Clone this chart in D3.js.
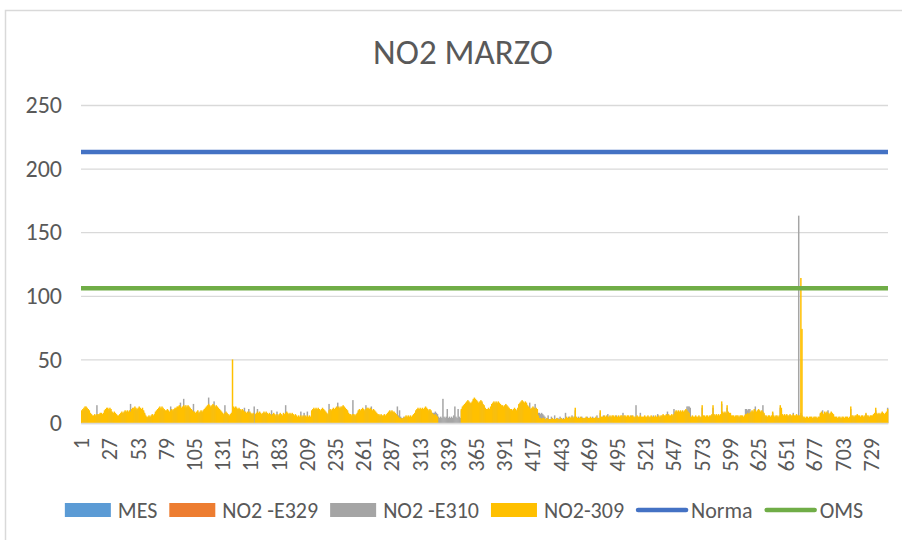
<!DOCTYPE html>
<html>
<head>
<meta charset="utf-8">
<script src="https://cdn.jsdelivr.net/npm/d3@7"></script>
<style>
  html, body { margin: 0; padding: 0; background: #fff; }
  svg text { font-family: Carlito, Lato, "Liberation Sans", sans-serif; fill: #595959; }
</style>
</head>
<body>
<svg id="chart" width="902" height="540"></svg>
<script>
// hourly NO2 values for March (744 hours)
const title = "NO2 MARZO";
const yTicks = [0, 50, 100, 150, 200, 250];
const xTickLabels = [1, 27, 53, 79, 105, 131, 157, 183, 209, 235, 261, 287, 313, 339, 365,
  391, 417, 443, 469, 495, 521, 547, 573, 599, 625, 651, 677, 703, 729];

// MES and NO2 -E329 have no visible marks in the source
const mes = [];
const no2E329 = [];

const no2E310 = [
  8,9,10,11,12,10,9,8,7,6,5,5,6,5,14,6,6,7,7,6,7,8,9,10,
  10,9,10,9,8,7,7,7,6,5,5,6,7,8,7,8,9,8,9,8,9,15,10,10,
  10,11,10,10,11,11,10,10,10,9,7,5,4,4,5,4,5,6,5,6,8,9,10,10,
  11,10,11,10,10,9,9,10,9,8,13,10,9,10,11,11,12,12,13,16,11,12,19,12,
  12,12,13,12,11,10,9,15,8,7,8,9,7,8,9,8,9,10,11,12,13,20,13,12,
  13,14,17,12,13,12,11,10,9,8,7,6,14,8,7,6,5,6,7,9,12,11,12,11,
  10,11,10,9,10,9,12,8,7,8,11,8,7,6,7,13,6,7,11,7,8,7,6,7,
  8,7,8,7,6,7,6,10,6,7,6,5,9,5,6,7,6,5,7,6,14,8,7,6,
  7,6,7,6,5,6,5,4,5,4,9,4,5,8,5,4,9,4,5,4,9,10,11,10,
  11,10,11,10,9,10,11,10,9,8,7,6,15,10,9,10,11,10,11,12,16,12,11,12,
  12,13,12,11,10,9,7,6,6,5,18,6,5,6,7,9,10,9,10,11,10,9,14,11,
  11,10,11,13,9,10,9,8,7,6,6,5,6,5,5,6,5,6,7,8,9,8,9,8,
  8,7,6,13,6,10,5,4,3,5,4,5,4,5,4,5,4,5,6,7,9,10,11,10,
  11,10,11,10,11,12,11,10,9,10,9,8,8,8,9,8,7,5,4,5,4,19,5,4,
  5,11,4,5,4,5,4,6,13,5,4,11,5,4,10,12,13,14,15,16,17,16,15,15,
  16,18,19,18,17,16,15,16,17,16,14,13,11,10,10,11,10,12,14,15,16,15,16,15,
  16,15,14,13,13,12,13,14,13,12,11,10,10,9,10,11,10,9,11,14,15,16,17,16,
  15,16,15,13,12,16,10,11,12,12,15,11,10,8,8,7,8,7,6,5,3,4,6,3,
  3,5,3,3,6,3,3,4,3,5,3,3,4,3,8,4,4,5,4,4,6,4,5,10,
  4,4,5,4,4,5,4,3,4,4,5,4,3,4,4,5,4,4,4,6,4,4,8,4,
  4,6,5,4,5,7,4,5,4,5,5,4,5,6,4,5,4,5,5,8,5,5,4,5,
  5,4,5,6,5,4,4,14,5,4,4,8,4,4,4,5,4,4,5,4,4,5,4,6,
  4,5,4,7,5,4,5,5,6,5,5,6,9,6,5,5,6,5,11,8,9,8,9,8,
  9,8,9,8,9,10,13,13,13,12,4,5,4,4,5,4,4,5,4,4,12,5,5,4,
  5,5,4,5,5,6,12,6,5,6,5,6,5,6,15,8,7,8,7,12,8,7,7,5,
  5,5,4,5,5,5,4,5,5,5,4,5,11,11,10,11,11,8,9,8,10,13,8,9,
  10,9,8,9,14,7,5,5,4,5,5,4,5,8,5,4,5,5,4,5,12,10,6,5,
  6,5,6,5,5,6,5,5,8,5,5,6,5,163,5,8,6,4,4,3,4,4,3,4,
  4,4,3,4,4,4,3,4,4,7,8,10,6,8,7,8,10,6,7,8,7,6,4,4,
  4,3,4,4,3,4,4,3,4,4,4,3,4,11,5,5,4,5,5,6,5,5,4,5,
  5,4,5,7,5,5,4,5,5,5,6,7,10,7,6,7,6,7,8,7,6,7,8,12
];

const no2309 = [
  10,11,12,13,13,12,11,10,8,7,6,6,7,6,7,7,7,8,8,7,8,10,11,12,
  12,11,12,11,9,8,9,8,7,6,6,7,8,9,8,9,10,9,10,9,10,9,11,12,
  12,13,12,11,12,13,12,11,12,10,8,6,5,5,6,5,6,7,6,7,9,10,11,12,
  13,12,13,12,11,10,10,11,10,9,10,11,10,11,12,12,13,13,14,13,12,13,14,13,
  14,13,14,13,12,11,10,9,9,8,9,10,8,9,10,9,10,11,12,13,14,15,14,13,
  14,15,14,13,14,13,12,11,10,9,8,7,8,9,8,7,6,7,8,50,13,12,13,12,
  11,12,11,10,11,10,9,9,8,9,8,9,8,7,8,null,7,8,9,8,9,8,7,8,
  9,8,9,8,7,8,7,6,7,8,7,6,7,6,7,8,7,6,8,7,8,9,8,7,
  8,7,8,7,6,7,6,5,6,5,6,5,6,5,6,5,6,5,6,5,10,11,12,11,
  12,11,12,11,10,11,12,11,10,9,8,7,10,11,10,11,12,11,12,13,12,13,12,13,
  13,14,13,12,11,10,8,7,7,6,7,7,6,7,8,10,11,10,11,12,11,10,11,12,
  12,11,12,11,10,11,10,9,8,7,7,6,7,6,6,7,6,7,8,9,10,9,10,9,
  9,8,7,6,5,4,4,3,4,4,5,6,5,6,5,6,5,6,7,8,10,11,12,11,
  12,11,12,11,12,13,12,11,10,11,10,8,7,6,7,6,5,null,null,null,null,null,null,null,
  null,null,null,null,null,null,null,null,null,null,null,null,null,null,11,13,14,15,16,17,18,17,16,16,
  17,19,20,19,18,17,16,17,18,17,15,14,12,11,11,12,11,13,15,16,17,16,17,16,
  17,16,15,14,14,13,14,15,14,13,12,11,11,10,11,12,11,10,12,15,16,17,18,17,
  16,17,16,14,13,12,11,12,13,12,11,12,11,6,4,4,3,4,4,3,3,4,3,3,
  3,3,4,3,3,3,4,3,3,3,4,3,3,3,4,5,4,4,5,4,5,4,5,12,
  5,4,4,4,5,4,4,4,4,5,4,4,4,5,4,4,4,4,5,4,4,4,10,5,
  5,5,6,5,6,5,5,6,5,6,6,5,6,5,5,6,5,6,6,5,6,6,5,6,
  6,5,6,5,6,5,5,5,6,5,5,6,5,5,5,6,5,5,6,5,5,6,5,5,
  5,6,5,5,6,5,6,6,7,6,6,7,6,7,6,6,7,6,7,9,10,9,10,9,
  10,9,10,9,10,11,10,9,8,5,5,6,5,5,6,5,5,6,5,5,14,6,6,5,
  6,6,5,6,6,7,14,7,6,7,6,7,6,7,17,9,8,9,8,14,9,8,8,6,
  6,6,5,6,6,6,5,6,6,6,5,6,7,7,8,7,8,9,10,9,11,10,9,10,
  11,10,9,10,9,8,6,6,5,6,6,5,6,9,6,5,6,6,5,6,14,12,7,6,
  7,6,7,6,6,7,6,6,7,6,6,7,6,6,6,114,74,5,5,4,5,5,4,5,
  5,5,4,5,5,5,4,5,5,8,9,8,7,9,8,9,8,7,8,9,8,7,5,5,
  5,4,5,5,4,5,5,4,5,5,5,4,5,13,6,6,5,6,6,7,6,6,5,6,
  6,5,6,8,6,6,5,6,6,6,7,8,12,8,7,8,7,8,9,8,7,8,9,11
];

// reference lines
const normaValue = 213;
const omsValue = 106;

const hours = d3.range(1, no2309.length + 1);

const colors = {
  mes: "#5B9BD5",
  e329: "#ED7D31",
  e310: "#A5A5A5",
  s309: "#FFC000",
  norma: "#4472C4",
  oms: "#70AD47"
};

const svg = d3.select("#chart");
const margin = { left: 81, right: 14, top: 105, bottom: 117 };
const width = 902, height = 540;

// chart frame
svg.append("rect")
  .attr("x", 5.5).attr("y", 10.5)
  .attr("width", 1000).attr("height", 1000)
  .attr("fill", "none")
  .attr("stroke", "#d9d9d9")
  .attr("stroke-width", 1.5);

svg.append("text")
  .attr("x", 463).attr("y", 64)
  .attr("text-anchor", "middle")
  .style("font-size", "35px")
  .style("font-weight", 300)
  .text(title);

const x = d3.scaleBand()
  .domain(hours)
  .range([margin.left, width - margin.right])
  .padding(0);

const y = d3.scaleLinear()
  .domain([0, 250])
  .range([height - margin.bottom, margin.top]);

// gridlines + y labels
const yAxis = svg.append("g")
  .attr("transform", `translate(${margin.left},0)`)
  .call(d3.axisLeft(y).tickValues(yTicks).tickSize(-(width - margin.left - margin.right)).tickPadding(19));
yAxis.select(".domain").remove();
yAxis.selectAll(".tick line").attr("stroke", "#d9d9d9").attr("stroke-width", 1.3);
yAxis.selectAll(".tick text")
  .style("font-size", "24px")
  .style("font-weight", 300)
  .attr("fill", "#595959");

// columns: grey first, yellow on top
function drawColumns(values, color) {
  const pts = hours.map((h, i) => ({ h, v: values[i] })).filter(d => d.v != null);
  svg.append("g")
    .selectAll("rect")
    .data(pts)
    .join("rect")
    .attr("x", d => x(d.h))
    .attr("y", d => y(d.v))
    .attr("width", x.bandwidth() + 0.4)
    .attr("height", d => y(0) - y(d.v))
    .attr("fill", color);
}
drawColumns(mes, colors.mes);
drawColumns(no2E329, colors.e329);
drawColumns(no2E310, colors.e310);
drawColumns(no2309, colors.s309);

// x axis
const xAxis = svg.append("g")
  .attr("transform", `translate(0,${y(0)})`)
  .call(d3.axisBottom(x).tickValues(xTickLabels).tickSize(0).tickPadding(0));
xAxis.select(".domain").attr("stroke", "#d9d9d9").attr("stroke-width", 1.5);
xAxis.selectAll(".tick text")
  .style("font-size", "22px")
  .style("font-weight", 300)
  .attr("fill", "#595959")
  .attr("text-anchor", "end")
  .attr("transform", "rotate(-90)")
  .attr("x", -15)
  .attr("y", 0)
  .attr("dy", "0.35em");

// horizontal limit lines
const lineGen = d3.line().x(d => d[0]).y(d => d[1]);
[[normaValue, colors.norma], [omsValue, colors.oms]].forEach(([v, c]) => {
  svg.append("path")
    .attr("d", lineGen([[x(hours[0]), y(v)], [x(hours[hours.length - 1]) + x.bandwidth(), y(v)]]))
    .attr("stroke", c)
    .attr("stroke-width", 4.5)
    .attr("fill", "none");
});

// legend
const legendItems = [
  { label: "MES", color: colors.mes, type: "rect" },
  { label: "NO2 -E329", color: colors.e329, type: "rect" },
  { label: "NO2 -E310", color: colors.e310, type: "rect" },
  { label: "NO2-309", color: colors.s309, type: "rect" },
  { label: "Norma", color: colors.norma, type: "line" },
  { label: "OMS", color: colors.oms, type: "line" }
];
const legend = svg.append("g");
let lx = 0;
const ly = 510;
legendItems.forEach(item => {
  const g = legend.append("g").attr("transform", `translate(${lx},0)`);
  if (item.type === "rect") {
    g.append("rect").attr("x", 0).attr("y", ly - 7).attr("width", 46).attr("height", 14).attr("fill", item.color);
  } else {
    g.append("line").attr("x1", 2).attr("x2", 50).attr("y1", ly).attr("y2", ly)
      .attr("stroke", item.color).attr("stroke-width", 4.5).attr("stroke-linecap", "round");
  }
  const t = g.append("text")
    .attr("x", item.type === "rect" ? 53 : 55)
    .attr("y", ly)
    .attr("dy", "0.35em")
    .style("font-size", "22px")
    .style("font-weight", 300)
    .text(item.label);
  lx += (item.type === "rect" ? 53 : 55) + t.node().getComputedTextLength() + 12;
});
const legendWidth = lx - 12;
legend.attr("transform", `translate(${464 - legendWidth / 2},0)`);
</script>
</body>
</html>
